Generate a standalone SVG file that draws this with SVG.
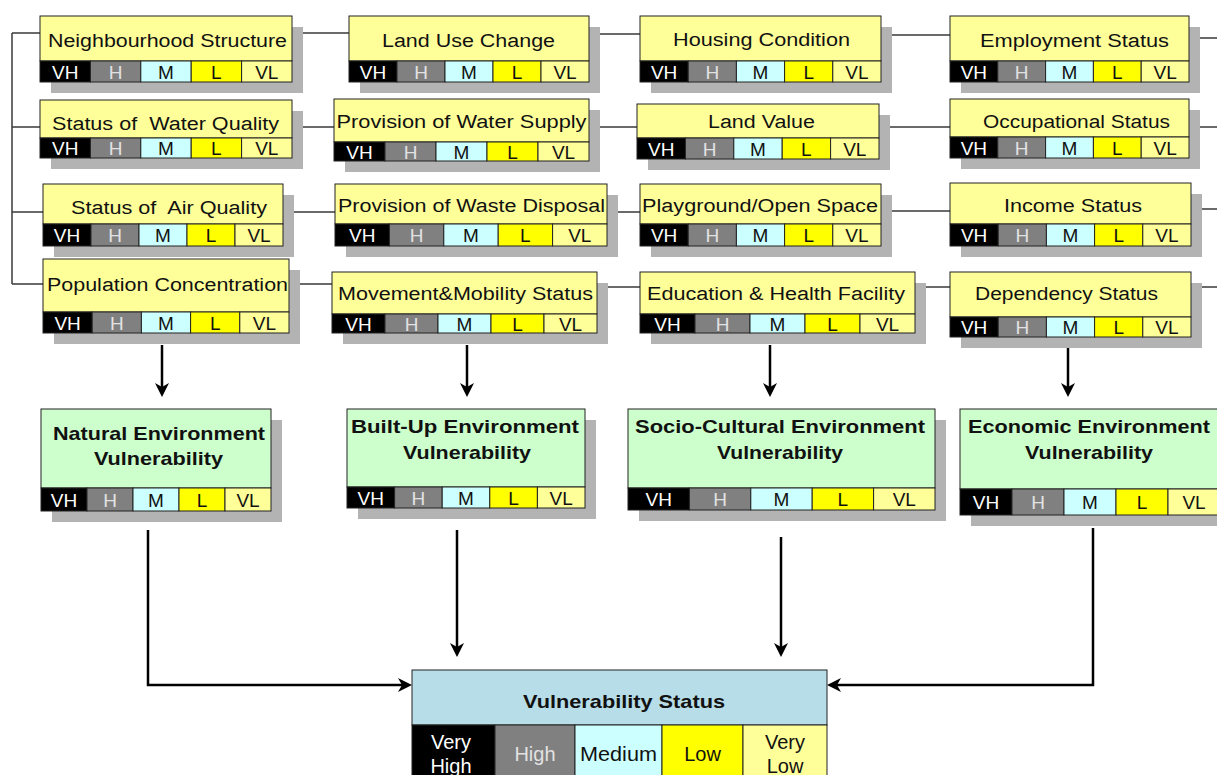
<svg xmlns="http://www.w3.org/2000/svg" width="1217" height="775" viewBox="0 0 1217 775">
<style>
text{font-family:"Liberation Sans",Arial,sans-serif;text-anchor:middle;white-space:pre}
.lnk{fill:none;stroke:#3a3a3a;stroke-width:1.5}
.arr{fill:none;stroke:#000;stroke-width:2.5;marker-end:url(#ah)}
.sh{fill:#b3b3b3}
.ty{fill:#ffff99;stroke:#222;stroke-width:1}
.tg{fill:#ccffcc;stroke:#222;stroke-width:1}
.tb{fill:#b7dde8;stroke:#222;stroke-width:1}
.vh{fill:#000;stroke:#222}.h{fill:#808080;stroke:#222}.m{fill:#ccffff;stroke:#222}.l{fill:#ffff00;stroke:#222}.vl{fill:#ffff99;stroke:#222}
.t{font-size:18px;fill:#111}
.tg2{font-size:19px;font-weight:bold;fill:#111}
.r{font-size:19px;fill:#111}
.s{font-size:20px;fill:#111}
text.rw{fill:#fff}
text.rg{fill:#e2e2e2}
</style>
<defs>
<marker id="ah" viewBox="0 0 14 14" refX="10" refY="7" markerWidth="14" markerHeight="14" markerUnits="userSpaceOnUse" orient="auto">
<path d="M0,0 L14,7 L0,14 L4,7 z" fill="#000"/>
</marker>
</defs>

<g id="connectors">
<path class="lnk" d="M12,33 V284"/>
<path class="lnk" d="M12,33 H40 M292,33 H349 M589,34 H640 M881,35 H950 M1189,38 H1217"/>
<path class="lnk" d="M12,127 H40 M292,127 H334 M589,127 H637 M879,127 H950 M1189,127 H1217"/>
<path class="lnk" d="M12,212 H43 M283,212 H335 M607,212 H640 M881,211 H950 M1191,209 H1217"/>
<path class="lnk" d="M12,284 H43 M289,284 H332 M597,287 H640 M915,287 H950 M1191,287 H1217"/>
<path class="arr" d="M162,345 V393"/>
<path class="arr" d="M467,345 V393"/>
<path class="arr" d="M770,345 V393"/>
<path class="arr" d="M1068,348 V393"/>
<path class="arr" d="M148,530 V685 H408"/>
<path class="arr" d="M457,530 V653"/>
<path class="arr" d="M781,537 V653"/>
<path class="arr" d="M1093,528 V685 H831"/>
</g>

<g id="n-neighbourhood">
<rect class="sh" x="51" y="27" width="252" height="66"/>
<rect class="ty" x="40" y="16" width="252" height="45"/>
<rect class="vh" x="40" y="61" width="50.4" height="21"/><rect class="h" x="90.4" y="61" width="50.4" height="21"/><rect class="m" x="140.8" y="61" width="50.4" height="21"/><rect class="l" x="191.2" y="61" width="50.4" height="21"/><rect class="vl" x="241.6" y="61" width="50.4" height="21"/>
<text class="t" x="167.5" y="47" textLength="239" lengthAdjust="spacingAndGlyphs">Neighbourhood Structure</text>
<text class="r rw" x="65.2" y="78.5">VH</text><text class="r rg" x="115.6" y="78.5">H</text><text class="r" x="166" y="78.5">M</text><text class="r" x="216.4" y="78.5">L</text><text class="r" x="266.8" y="78.5">VL</text>
</g>

<g id="n-land-use">
<rect class="sh" x="360" y="27" width="240" height="66"/>
<rect class="ty" x="349" y="16" width="240" height="45"/>
<rect class="vh" x="349" y="61" width="48" height="21"/><rect class="h" x="397" y="61" width="48" height="21"/><rect class="m" x="445" y="61" width="48" height="21"/><rect class="l" x="493" y="61" width="48" height="21"/><rect class="vl" x="541" y="61" width="48" height="21"/>
<text class="t" x="468.5" y="47" textLength="173" lengthAdjust="spacingAndGlyphs">Land Use Change</text>
<text class="r rw" x="373" y="78.5">VH</text><text class="r rg" x="421" y="78.5">H</text><text class="r" x="469" y="78.5">M</text><text class="r" x="517" y="78.5">L</text><text class="r" x="565" y="78.5">VL</text>
</g>

<g id="n-housing">
<rect class="sh" x="651" y="27" width="241" height="66"/>
<rect class="ty" x="640" y="16" width="241" height="45"/>
<rect class="vh" x="640" y="61" width="48.2" height="21"/><rect class="h" x="688.2" y="61" width="48.2" height="21"/><rect class="m" x="736.4" y="61" width="48.2" height="21"/><rect class="l" x="784.6" y="61" width="48.2" height="21"/><rect class="vl" x="832.8" y="61" width="48.2" height="21"/>
<text class="t" x="761.5" y="46" textLength="177" lengthAdjust="spacingAndGlyphs">Housing Condition</text>
<text class="r rw" x="664.1" y="78.5">VH</text><text class="r rg" x="712.3" y="78.5">H</text><text class="r" x="760.5" y="78.5">M</text><text class="r" x="808.7" y="78.5">L</text><text class="r" x="856.9" y="78.5">VL</text>
</g>

<g id="n-employment">
<rect class="sh" x="961" y="27" width="239" height="66"/>
<rect class="ty" x="950" y="16" width="239" height="45"/>
<rect class="vh" x="950" y="61" width="47.8" height="21"/><rect class="h" x="997.8" y="61" width="47.8" height="21"/><rect class="m" x="1045.6" y="61" width="47.8" height="21"/><rect class="l" x="1093.4" y="61" width="47.8" height="21"/><rect class="vl" x="1141.2" y="61" width="47.8" height="21"/>
<text class="t" x="1074.5" y="47" textLength="189" lengthAdjust="spacingAndGlyphs">Employment Status</text>
<text class="r rw" x="973.9" y="78.5">VH</text><text class="r rg" x="1021.7" y="78.5">H</text><text class="r" x="1069.5" y="78.5">M</text><text class="r" x="1117.3" y="78.5">L</text><text class="r" x="1165.1" y="78.5">VL</text>
</g>

<g id="n-water-quality">
<rect class="sh" x="51" y="111" width="252" height="58"/>
<rect class="ty" x="40" y="100" width="252" height="38"/>
<rect class="vh" x="40" y="138" width="50.4" height="20"/><rect class="h" x="90.4" y="138" width="50.4" height="20"/><rect class="m" x="140.8" y="138" width="50.4" height="20"/><rect class="l" x="191.2" y="138" width="50.4" height="20"/><rect class="vl" x="241.6" y="138" width="50.4" height="20"/>
<text class="t" x="165.5" y="130" textLength="227" lengthAdjust="spacingAndGlyphs">Status of  Water Quality</text>
<text class="r rw" x="65.2" y="155">VH</text><text class="r rg" x="115.6" y="155">H</text><text class="r" x="166" y="155">M</text><text class="r" x="216.4" y="155">L</text><text class="r" x="266.8" y="155">VL</text>
</g>

<g id="n-water-supply">
<rect class="sh" x="345" y="110" width="255" height="62"/>
<rect class="ty" x="334" y="99" width="255" height="43"/>
<rect class="vh" x="334" y="142" width="51" height="19"/><rect class="h" x="385" y="142" width="51" height="19"/><rect class="m" x="436" y="142" width="51" height="19"/><rect class="l" x="487" y="142" width="51" height="19"/><rect class="vl" x="538" y="142" width="51" height="19"/>
<text class="t" x="461.5" y="128" textLength="250" lengthAdjust="spacingAndGlyphs">Provision of Water Supply</text>
<text class="r rw" x="359.5" y="158.5">VH</text><text class="r rg" x="410.5" y="158.5">H</text><text class="r" x="461.5" y="158.5">M</text><text class="r" x="512.5" y="158.5">L</text><text class="r" x="563.5" y="158.5">VL</text>
</g>

<g id="n-land-value">
<rect class="sh" x="648" y="115" width="242" height="55"/>
<rect class="ty" x="637" y="104" width="242" height="34"/>
<rect class="vh" x="637" y="138" width="48.4" height="21"/><rect class="h" x="685.4" y="138" width="48.4" height="21"/><rect class="m" x="733.8" y="138" width="48.4" height="21"/><rect class="l" x="782.2" y="138" width="48.4" height="21"/><rect class="vl" x="830.6" y="138" width="48.4" height="21"/>
<text class="t" x="761.5" y="128" textLength="107" lengthAdjust="spacingAndGlyphs">Land Value</text>
<text class="r rw" x="661.2" y="155.5">VH</text><text class="r rg" x="709.6" y="155.5">H</text><text class="r" x="758" y="155.5">M</text><text class="r" x="806.4" y="155.5">L</text><text class="r" x="854.8" y="155.5">VL</text>
</g>

<g id="n-occupational">
<rect class="sh" x="961" y="110" width="239" height="59"/>
<rect class="ty" x="950" y="99" width="239" height="38"/>
<rect class="vh" x="950" y="137" width="47.8" height="21"/><rect class="h" x="997.8" y="137" width="47.8" height="21"/><rect class="m" x="1045.6" y="137" width="47.8" height="21"/><rect class="l" x="1093.4" y="137" width="47.8" height="21"/><rect class="vl" x="1141.2" y="137" width="47.8" height="21"/>
<text class="t" x="1076.5" y="128" textLength="187" lengthAdjust="spacingAndGlyphs">Occupational Status</text>
<text class="r rw" x="973.9" y="154.5">VH</text><text class="r rg" x="1021.7" y="154.5">H</text><text class="r" x="1069.5" y="154.5">M</text><text class="r" x="1117.3" y="154.5">L</text><text class="r" x="1165.1" y="154.5">VL</text>
</g>

<g id="n-air-quality">
<rect class="sh" x="54" y="195" width="240" height="62"/>
<rect class="ty" x="43" y="184" width="240" height="40"/>
<rect class="vh" x="43" y="224" width="48" height="22"/><rect class="h" x="91" y="224" width="48" height="22"/><rect class="m" x="139" y="224" width="48" height="22"/><rect class="l" x="187" y="224" width="48" height="22"/><rect class="vl" x="235" y="224" width="48" height="22"/>
<text class="t" x="169" y="214" textLength="196" lengthAdjust="spacingAndGlyphs">Status of  Air Quality</text>
<text class="r rw" x="67" y="242">VH</text><text class="r rg" x="115" y="242">H</text><text class="r" x="163" y="242">M</text><text class="r" x="211" y="242">L</text><text class="r" x="259" y="242">VL</text>
</g>

<g id="n-waste">
<rect class="sh" x="346" y="195" width="272" height="62"/>
<rect class="ty" x="335" y="184" width="272" height="40"/>
<rect class="vh" x="335" y="224" width="54.4" height="22"/><rect class="h" x="389.4" y="224" width="54.4" height="22"/><rect class="m" x="443.8" y="224" width="54.4" height="22"/><rect class="l" x="498.2" y="224" width="54.4" height="22"/><rect class="vl" x="552.6" y="224" width="54.4" height="22"/>
<text class="t" x="471.5" y="212" textLength="267" lengthAdjust="spacingAndGlyphs">Provision of Waste Disposal</text>
<text class="r rw" x="362.2" y="242">VH</text><text class="r rg" x="416.6" y="242">H</text><text class="r" x="471" y="242">M</text><text class="r" x="525.4" y="242">L</text><text class="r" x="579.8" y="242">VL</text>
</g>

<g id="n-playground">
<rect class="sh" x="651" y="195" width="241" height="62"/>
<rect class="ty" x="640" y="184" width="241" height="40"/>
<rect class="vh" x="640" y="224" width="48.2" height="22"/><rect class="h" x="688.2" y="224" width="48.2" height="22"/><rect class="m" x="736.4" y="224" width="48.2" height="22"/><rect class="l" x="784.6" y="224" width="48.2" height="22"/><rect class="vl" x="832.8" y="224" width="48.2" height="22"/>
<text class="t" x="760" y="212" textLength="236" lengthAdjust="spacingAndGlyphs">Playground/Open Space</text>
<text class="r rw" x="664.1" y="242">VH</text><text class="r rg" x="712.3" y="242">H</text><text class="r" x="760.5" y="242">M</text><text class="r" x="808.7" y="242">L</text><text class="r" x="856.9" y="242">VL</text>
</g>

<g id="n-income">
<rect class="sh" x="961" y="194" width="241" height="63"/>
<rect class="ty" x="950" y="183" width="241" height="41"/>
<rect class="vh" x="950" y="224" width="48.2" height="22"/><rect class="h" x="998.2" y="224" width="48.2" height="22"/><rect class="m" x="1046.4" y="224" width="48.2" height="22"/><rect class="l" x="1094.6" y="224" width="48.2" height="22"/><rect class="vl" x="1142.8" y="224" width="48.2" height="22"/>
<text class="t" x="1073" y="212" textLength="138" lengthAdjust="spacingAndGlyphs">Income Status</text>
<text class="r rw" x="974.1" y="242">VH</text><text class="r rg" x="1022.3" y="242">H</text><text class="r" x="1070.5" y="242">M</text><text class="r" x="1118.7" y="242">L</text><text class="r" x="1166.9" y="242">VL</text>
</g>

<g id="n-population">
<rect class="sh" x="54" y="270" width="246" height="74"/>
<rect class="ty" x="43" y="259" width="246" height="53"/>
<rect class="vh" x="43" y="312" width="49.2" height="21"/><rect class="h" x="92.2" y="312" width="49.2" height="21"/><rect class="m" x="141.4" y="312" width="49.2" height="21"/><rect class="l" x="190.6" y="312" width="49.2" height="21"/><rect class="vl" x="239.8" y="312" width="49.2" height="21"/>
<text class="t" x="167.5" y="291" textLength="241" lengthAdjust="spacingAndGlyphs">Population Concentration</text>
<text class="r rw" x="67.6" y="329.5">VH</text><text class="r rg" x="116.8" y="329.5">H</text><text class="r" x="166" y="329.5">M</text><text class="r" x="215.2" y="329.5">L</text><text class="r" x="264.4" y="329.5">VL</text>
</g>

<g id="n-movement">
<rect class="sh" x="343" y="283" width="265" height="61"/>
<rect class="ty" x="332" y="272" width="265" height="42"/>
<rect class="vh" x="332" y="314" width="53" height="19"/><rect class="h" x="385" y="314" width="53" height="19"/><rect class="m" x="438" y="314" width="53" height="19"/><rect class="l" x="491" y="314" width="53" height="19"/><rect class="vl" x="544" y="314" width="53" height="19"/>
<text class="t" x="465.5" y="300" textLength="255" lengthAdjust="spacingAndGlyphs">Movement&amp;Mobility Status</text>
<text class="r rw" x="358.5" y="330.5">VH</text><text class="r rg" x="411.5" y="330.5">H</text><text class="r" x="464.5" y="330.5">M</text><text class="r" x="517.5" y="330.5">L</text><text class="r" x="570.5" y="330.5">VL</text>
</g>

<g id="n-education">
<rect class="sh" x="651" y="283" width="275" height="61"/>
<rect class="ty" x="640" y="272" width="275" height="42"/>
<rect class="vh" x="640" y="314" width="55" height="19"/><rect class="h" x="695" y="314" width="55" height="19"/><rect class="m" x="750" y="314" width="55" height="19"/><rect class="l" x="805" y="314" width="55" height="19"/><rect class="vl" x="860" y="314" width="55" height="19"/>
<text class="t" x="776" y="300" textLength="258" lengthAdjust="spacingAndGlyphs">Education &amp; Health Facility</text>
<text class="r rw" x="667.5" y="330.5">VH</text><text class="r rg" x="722.5" y="330.5">H</text><text class="r" x="777.5" y="330.5">M</text><text class="r" x="832.5" y="330.5">L</text><text class="r" x="887.5" y="330.5">VL</text>
</g>

<g id="n-dependency">
<rect class="sh" x="961" y="283" width="241" height="65"/>
<rect class="ty" x="950" y="272" width="241" height="45"/>
<rect class="vh" x="950" y="317" width="48.2" height="20"/><rect class="h" x="998.2" y="317" width="48.2" height="20"/><rect class="m" x="1046.4" y="317" width="48.2" height="20"/><rect class="l" x="1094.6" y="317" width="48.2" height="20"/><rect class="vl" x="1142.8" y="317" width="48.2" height="20"/>
<text class="t" x="1066.5" y="300" textLength="183" lengthAdjust="spacingAndGlyphs">Dependency Status</text>
<text class="r rw" x="974.1" y="334">VH</text><text class="r rg" x="1022.3" y="334">H</text><text class="r" x="1070.5" y="334">M</text><text class="r" x="1118.7" y="334">L</text><text class="r" x="1166.9" y="334">VL</text>
</g>

<g id="e-natural">
<rect class="sh" x="52" y="420" width="230" height="102"/>
<rect class="tg" x="41" y="409" width="230" height="79"/>
<rect class="vh" x="41" y="488" width="46" height="23"/><rect class="h" x="87" y="488" width="46" height="23"/><rect class="m" x="133" y="488" width="46" height="23"/><rect class="l" x="179" y="488" width="46" height="23"/><rect class="vl" x="225" y="488" width="46" height="23"/>
<text class="tg2" x="159" y="440" textLength="212" lengthAdjust="spacingAndGlyphs">Natural Environment</text>
<text class="tg2" x="158.5" y="465" textLength="129" lengthAdjust="spacingAndGlyphs">Vulnerability</text>
<text class="r rw" x="64" y="506.5">VH</text><text class="r rg" x="110" y="506.5">H</text><text class="r" x="156" y="506.5">M</text><text class="r" x="202" y="506.5">L</text><text class="r" x="248" y="506.5">VL</text>
</g>

<g id="e-builtup">
<rect class="sh" x="358" y="420" width="238" height="99"/>
<rect class="tg" x="347" y="409" width="238" height="78"/>
<rect class="vh" x="347" y="487" width="47.6" height="21"/><rect class="h" x="394.6" y="487" width="47.6" height="21"/><rect class="m" x="442.2" y="487" width="47.6" height="21"/><rect class="l" x="489.8" y="487" width="47.6" height="21"/><rect class="vl" x="537.4" y="487" width="47.6" height="21"/>
<text class="tg2" x="465" y="433" textLength="228" lengthAdjust="spacingAndGlyphs">Built-Up Environment</text>
<text class="tg2" x="467" y="459" textLength="128" lengthAdjust="spacingAndGlyphs">Vulnerability</text>
<text class="r rw" x="370.8" y="504.5">VH</text><text class="r rg" x="418.4" y="504.5">H</text><text class="r" x="466" y="504.5">M</text><text class="r" x="513.6" y="504.5">L</text><text class="r" x="561.2" y="504.5">VL</text>
</g>

<g id="e-socio">
<rect class="sh" x="639" y="420" width="307" height="101"/>
<rect class="tg" x="628" y="409" width="307" height="79"/>
<rect class="vh" x="628" y="488" width="61.4" height="22"/><rect class="h" x="689.4" y="488" width="61.4" height="22"/><rect class="m" x="750.8" y="488" width="61.4" height="22"/><rect class="l" x="812.2" y="488" width="61.4" height="22"/><rect class="vl" x="873.6" y="488" width="61.4" height="22"/>
<text class="tg2" x="780" y="433" textLength="290" lengthAdjust="spacingAndGlyphs">Socio-Cultural Environment</text>
<text class="tg2" x="780" y="459" textLength="126" lengthAdjust="spacingAndGlyphs">Vulnerability</text>
<text class="r rw" x="658.7" y="506">VH</text><text class="r rg" x="720.1" y="506">H</text><text class="r" x="781.5" y="506">M</text><text class="r" x="842.9" y="506">L</text><text class="r" x="904.3" y="506">VL</text>
</g>

<g id="e-economic">
<rect class="sh" x="971" y="420" width="260" height="106"/>
<rect class="tg" x="960" y="409" width="262" height="80"/>
<rect class="vh" x="960" y="489" width="52" height="26"/><rect class="h" x="1012" y="489" width="52" height="26"/><rect class="m" x="1064" y="489" width="52" height="26"/><rect class="l" x="1116" y="489" width="52" height="26"/><rect class="vl" x="1168" y="489" width="52" height="26"/>
<text class="tg2" x="1089" y="433" textLength="242" lengthAdjust="spacingAndGlyphs">Economic Environment</text>
<text class="tg2" x="1089" y="459" textLength="128" lengthAdjust="spacingAndGlyphs">Vulnerability</text>
<text class="r rw" x="986" y="509">VH</text><text class="r rg" x="1038" y="509">H</text><text class="r" x="1090" y="509">M</text><text class="r" x="1142" y="509">L</text><text class="r" x="1194" y="509">VL</text>
</g>

<g id="n-vulnerability-status">
<rect class="tb" x="412" y="670" width="415" height="55"/>
<rect class="vh" x="412" y="725" width="83" height="55"/><rect class="h" x="495" y="725" width="80" height="55"/><rect class="m" x="575" y="725" width="87" height="55"/><rect class="l" x="662" y="725" width="81" height="55"/><rect class="vl" x="743" y="725" width="84" height="55"/>
<text class="tg2" x="624" y="708" textLength="202" lengthAdjust="spacingAndGlyphs">Vulnerability Status</text>
<text class="s rw" x="451" y="749">Very</text><text class="s rw" x="451" y="773">High</text>
<text class="s rg" x="535" y="761">High</text>
<text class="s" x="618.5" y="761" textLength="77" lengthAdjust="spacingAndGlyphs">Medium</text>
<text class="s" x="702.5" y="761">Low</text>
<text class="s" x="785" y="749">Very</text><text class="s" x="785" y="773">Low</text>
</g>
</svg>
